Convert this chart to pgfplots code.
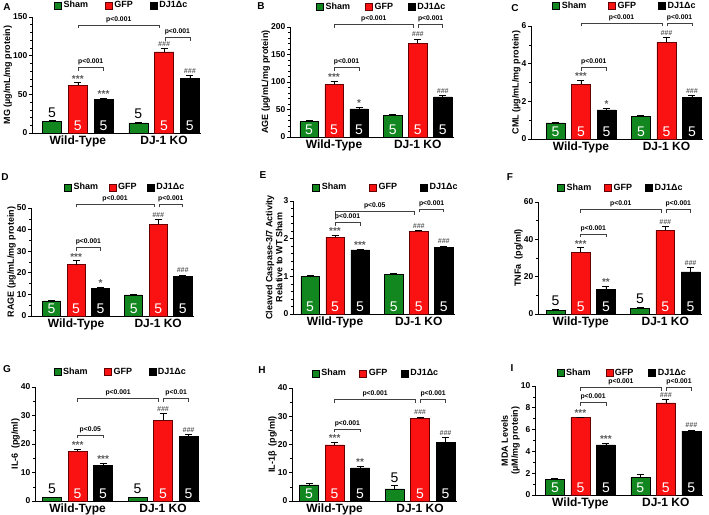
\documentclass[border=0pt]{standalone}
\usepackage{fontspec}
\setmainfont{Liberation Sans}
\usepackage{pgfplots}
\pgfplotsset{compat=1.18}
\definecolor{cg}{RGB}{18,135,32}
\definecolor{cr}{RGB}{250,18,18}
\newcommand\fL{\fontsize{9}{10}\selectfont\bfseries}
\newcommand\fT{\fontsize{8.5}{9}\selectfont\bfseries}
\newcommand\fG{\fontsize{12}{13}\selectfont\bfseries}
\newcommand\fP{\fontsize{6.8}{7}\selectfont\bfseries}
\newcommand\fS{\fontsize{10}{10}\selectfont\bfseries}
\newcommand\fH{\fontsize{7}{7}\selectfont\bfseries\itshape}
\newcommand\fN{\fontsize{14}{14}\selectfont}
\newcommand\fLet{\fontsize{10}{10}\selectfont\bfseries}
\newcommand{\brk}[4]{\draw[black!75, line width=0.6pt] (axis cs:#1,#3) ++(0pt,-3.5pt) -- (axis cs:#1,#3) -- (axis cs:#2,#3) -- ++(0pt,-3.5pt);
 \path (axis cs:#1,#3) -- (axis cs:#2,#3) node[midway, above, font=\fP, inner sep=1pt, yshift=1pt] {#4};}
\newcommand{\sg}[3]{\node[anchor=south, inner sep=0.5pt, font=\fS, text=black!65] at (axis cs:#1,#2) {#3};}
\newcommand{\sh}[2]{\node[anchor=south, inner sep=1pt, yshift=1pt, font=\fH, text=black!65] at (axis cs:#1,#2) {\#\#\#};}
\newcommand{\nin}[1]{\node[anchor=south, inner sep=0pt, yshift=2.5pt, font=\fN, text=white] at (axis cs:#1,0) {5};}
\newcommand{\nout}[2]{\node[anchor=south, inner sep=0pt, yshift=3pt, font=\fN] at (axis cs:#1,#2) {5};}
\pgfplotsset{
 panel/.style={scale only axis, clip=false, axis lines*=left, axis line style={line width=0.9pt},
  ybar, bar width=0.74, bar shift=0pt, xmax=5.8, ymin=0, xtick={1,4.35},
  xticklabels={Wild-Type,DJ-1 KO}, x tick label style={font=\fG, yshift=3.5pt}, xtick style={draw=none},
  tick align=outside, major tick length=3pt, minor tick length=1.8pt,
  ytick style={line width=0.7pt, black}, minor y tick style={line width=0.5pt},
  y tick label style={font=\fT, inner sep=1.5pt}, /pgf/number format/assume math mode=true,
  ylabel style={font=\fL, align=center}, ylabel shift=-4pt, legend columns=3,
  legend style={draw=none, fill=none, font=\fL, anchor=center, inner sep=0pt},
  legend image code/.code={\draw[#1, line width=0.4pt] (0pt,-3.5pt) rectangle (7pt,3.5pt);}},
 leg/.style n args={3}{legend style={at={(#1,#2)}, /tikz/every even column/.append style={column sep=#3}}},
 eb/.style={error bars/y dir=plus, error bars/y explicit, error bars/error mark=|, error bars/error bar style={line width=0.6pt, black}, error bars/error mark options={line width=0.6pt, black, mark size=3.5pt}},
 bg/.style={fill=cg, draw=black, line width=0.5pt, bar shift=0pt, eb},
 br/.style={fill=cr, draw=black!60!red, line width=0.5pt, bar shift=0pt, eb},
 bk/.style={fill=black, draw=black, line width=0.5pt, bar shift=0pt, eb},
}
\begin{document}
\begin{tikzpicture}[x=1pt,y=1pt]
\useasboundingbox (0,0) rectangle (709,514);
% A
\begin{axis}[panel, at={(32pt,381pt)}, anchor=south west, width=169.4pt, height=116pt, xmin=-0.78, ymax=150,
 ytick={0,50,100,150}, minor y tick num=4, ylabel={MG (µg/mL/mg protein)}, leg={0.53}{1.10}{15pt}]
\addplot[bg] coordinates {(0,15) +- (0,0.8) (3.35,13) +- (0,1)};
\addplot[br] coordinates {(1,62) +- (0,3) (4.35,105) +- (0,4)};
\addplot[bk] coordinates {(2,43) +- (0,2) (5.35,71) +- (0,3)};
\legend{Sham,GFP,DJ1Δc}
\brk{1}{4.18}{139.7}{p<0.001}
\brk{4.38}{5.35}{124}{p<0.001}
\brk{1}{2}{85}{p<0.001}
\sg{1}{65}{***}\sg{2}{45}{***}\sh{4.35}{109}\sh{5.35}{74}
\nout{0}{15.8}\nout{3.35}{14}\nin{1}\nin{2}\nin{4.35}\nin{5.35}
\end{axis}
% B
\begin{axis}[panel, at={(290pt,377pt)}, anchor=south west, width=164pt, height=110pt, xmin=-0.76, ymax=200,
 ytick={0,50,100,150,200}, minor y tick num=4, ylabel={AGE (µg/mL/mg protein)}, leg={0.56}{1.18}{13pt}]
\addplot[bg] coordinates {(0,28) +- (0,2) (3.35,39) +- (0,2)};
\addplot[br] coordinates {(1,95) +- (0,7) (4.35,170) +- (0,8)};
\addplot[bk] coordinates {(2,51) +- (0,3) (5.35,73) +- (0,2)};
\legend{Sham,GFP,DJ1Δc}
\brk{1}{4.18}{205}{p<0.001}
\brk{4.38}{5.35}{205}{p<0.001}
\brk{1}{2}{127}{p<0.001}
\sg{1}{102}{***}\sg{2}{54}{*}\sh{4.35}{178}\sh{5.35}{75}
\nin{0}\nin{3.35}\nin{1}\nin{2}\nin{4.35}\nin{5.35}
\end{axis}
% C
\begin{axis}[panel, at={(531pt,375pt)}, anchor=south west, width=172.4pt, height=113pt, xmin=-0.96, ymax=6,
 ytick={0,2,4,6}, minor y tick num=1, ylabel={CML (µg/mL/mg protein)}, leg={0.545}{1.18}{20pt}]
\addplot[bg] coordinates {(0,0.85) +- (0,0.05) (3.35,1.2) +- (0,0.04)};
\addplot[br] coordinates {(1,2.9) +- (0,0.22) (4.35,5.15) +- (0,0.25)};
\addplot[bk] coordinates {(2,1.55) +- (0,0.1) (5.35,2.2) +- (0,0.1)};
\legend{Sham,GFP,DJ1Δc}
\brk{1}{4.18}{6.16}{p<0.001}
\brk{4.38}{5.35}{6.16}{p<0.001}
\brk{1}{2}{3.82}{p<0.001}
\sg{1}{3.12}{***}\sg{2}{1.65}{*}\sh{4.35}{5.4}\sh{5.35}{2.3}
\nin{0}\nin{3.35}\nin{1}\nin{2}\nin{4.35}\nin{5.35}
\end{axis}
% D
\begin{axis}[panel, at={(31pt,198pt)}, anchor=south west, width=162.7pt, height=108pt, xmin=-0.84, ymax=50,
 ytick={0,10,20,30,40,50}, minor y tick num=1, ylabel={RAGE (µg/mL/mg protein)}, leg={0.58}{1.19}{8.5pt}]
\addplot[bg] coordinates {(0,7) +- (0,0.4) (3.35,9.8) +- (0,0.4)};
\addplot[br] coordinates {(1,23.8) +- (0,1.8) (4.35,42.5) +- (0,2.2)};
\addplot[bk] coordinates {(2,12.7) +- (0,0.8) (5.35,18.2) +- (0,0.8)};
\legend{Sham,GFP,DJ1Δc}
\brk{1}{4.18}{51.9}{p<0.001}
\brk{4.38}{5.35}{51.9}{p<0.001}
\brk{1}{2}{31.9}{p<0.001}
\sg{1}{25.6}{***}\sg{2}{13.5}{*}\sh{4.35}{44.7}\sh{5.35}{19}
\nin{0}\nin{3.35}\nin{1}\nin{2}\nin{4.35}\nin{5.35}
\end{axis}
% E
\begin{axis}[panel, at={(293pt,200pt)}, anchor=south west, width=162pt, height=113pt, xmin=-0.68, ymax=3,
 ytick={0,1,2,3}, minor y tick num=4, ylabel={Cleaved Caspase-3/7 Activity\\Relative to WT Sham}, leg={0.574}{1.12}{21pt}]
\addplot[bg] coordinates {(0,1.0) +- (0,0.02) (3.35,1.05) +- (0,0.02)};
\addplot[br] coordinates {(1,2.04) +- (0,0.06) (4.35,2.2) +- (0,0.02)};
\addplot[bk] coordinates {(2,1.7) +- (0,0.03) (5.35,1.77) +- (0,0.04)};
\legend{Sham,GFP,DJ1Δc}
\brk{1}{4.18}{2.73}{p<0.05}
\brk{4.38}{5.35}{2.79}{p<0.001}
\brk{1}{2}{2.44}{p<0.001}
\sg{1}{2.1}{***}\sg{2}{1.73}{***}\sh{4.35}{2.22}\sh{5.35}{1.81}
\nin{0}\nin{3.35}\nin{1}\nin{2}\nin{4.35}\nin{5.35}
\end{axis}
% F
\begin{axis}[panel, at={(538pt,200pt)}, anchor=south west, width=163.9pt, height=112pt, xmin=-0.69, ymax=60,
 ytick={0,20,40,60}, minor y tick num=1, ylabel={TNFa\ \ (pg/ml)}, leg={0.506}{1.125}{11pt}]
\addplot[bg] coordinates {(0,2) +- (0,0.6) (3.35,3) +- (0,0.6)};
\addplot[br] coordinates {(1,33) +- (0,2.5) (4.35,45) +- (0,2)};
\addplot[bk] coordinates {(2,13) +- (0,2) (5.35,22.5) +- (0,2.3)};
\legend{Sham,GFP,DJ1Δc}
\brk{1}{4.18}{56.2}{p<0.01}
\brk{4.38}{5.35}{56.2}{p<0.001}
\brk{1}{2}{42.9}{p<0.001}
\sg{1}{35.5}{***}\sg{2}{15}{**}\sh{4.35}{47}\sh{5.35}{24.8}
\nout{0}{2.6}\nout{3.35}{3.6}\nin{1}\nin{2}\nin{4.35}\nin{5.35}
\end{axis}
% G
\begin{axis}[panel, at={(35pt,13pt)}, anchor=south west, width=165pt, height=114pt, xmin=-0.67, ymax=40,
 ytick={0,10,20,30,40}, minor y tick num=1, ylabel={IL-6\ \ (pg/ml)}, leg={0.52}{1.13}{14.5pt}]
\addplot[bg] coordinates {(0,1.2) +- (0,0.2) (3.35,1.2) +- (0,0.2)};
\addplot[br] coordinates {(1,17.5) +- (0,0.8) (4.35,28.3) +- (0,2.3)};
\addplot[bk] coordinates {(2,12.5) +- (0,0.8) (5.35,22.7) +- (0,0.7)};
\legend{Sham,GFP,DJ1Δc}
\brk{1}{4.18}{36.1}{p<0.001}
\brk{4.38}{5.35}{36.1}{p<0.01}
\brk{1}{2}{23.2}{p<0.05}
\sg{1}{18.3}{***}\sg{2}{13.3}{***}\sh{4.35}{30.6}\sh{5.35}{23.4}
\nout{0}{1.4}\nout{3.35}{1.4}\nin{1}\nin{2}\nin{4.35}\nin{5.35}
\end{axis}
% H
\begin{axis}[panel, at={(292pt,13pt)}, anchor=south west, width=165pt, height=113pt, xmin=-0.67, ymax=40,
 ytick={0,10,20,30,40}, minor y tick num=1, ylabel={IL-1β\ \ (pg/ml)}, leg={0.51}{1.13}{11.5pt}]
\addplot[bg] coordinates {(0,5.7) +- (0,0.4) (3.35,4.3) +- (0,1.2)};
\addplot[br] coordinates {(1,19.9) +- (0,0.8) (4.35,29.2) +- (0,0.5)};
\addplot[bk] coordinates {(2,11.7) +- (0,0.7) (5.35,20.8) +- (0,1.6)};
\legend{Sham,GFP,DJ1Δc}
\brk{1}{4.18}{36.1}{p<0.001}
\brk{4.38}{5.35}{36.1}{p<0.001}
\brk{1}{2}{25.5}{p<0.001}
\sg{1}{20.7}{***}\sg{2}{12.4}{**}\sh{4.35}{29.7}\sh{5.35}{22.4}
\nin{0}\nout{3.35}{5.5}\nin{1}\nin{2}\nin{4.35}\nin{5.35}
\end{axis}
% I
\begin{axis}[panel, at={(535pt,19pt)}, anchor=south west, width=167.8pt, height=109pt, xmin=-0.78, ymax=10,
 ytick={0,2,4,6,8,10}, minor y tick num=1, ylabel={MDA Levels\\(µM/mg protein)}, leg={0.52}{1.12}{13pt}]
\addplot[bg] coordinates {(0,1.45) +- (0,0.05) (3.35,1.6) +- (0,0.3)};
\addplot[br] coordinates {(1,7.1) +- (0,0.05) (4.35,8.45) +- (0,0.3)};
\addplot[bk] coordinates {(2,4.6) +- (0,0.15) (5.35,5.85) +- (0,0.1)};
\legend{Sham,GFP,DJ1Δc}
\brk{1}{4.18}{9.9}{p<0.001}
\brk{4.38}{5.35}{9.9}{p<0.001}
\brk{1}{2}{8.5}{p<0.001}
\sg{1}{7.15}{***}\sg{2}{4.75}{***}\sh{4.35}{8.75}\sh{5.35}{5.95}
\nin{0}\nin{3.35}\nin{1}\nin{2}\nin{4.35}\nin{5.35}
\end{axis}
\node[font=\fLet] at (7,507) {A};
\node[font=\fLet] at (261,508) {B};
\node[font=\fLet] at (515,506) {C};
\node[font=\fLet] at (5,337) {D};
\node[font=\fLet] at (263,339) {E};
\node[font=\fLet] at (510,337) {F};
\node[font=\fLet] at (7,145) {G};
\node[font=\fLet] at (262,144) {H};
\node[font=\fLet] at (512,146) {I};
\end{tikzpicture}
\end{document}
